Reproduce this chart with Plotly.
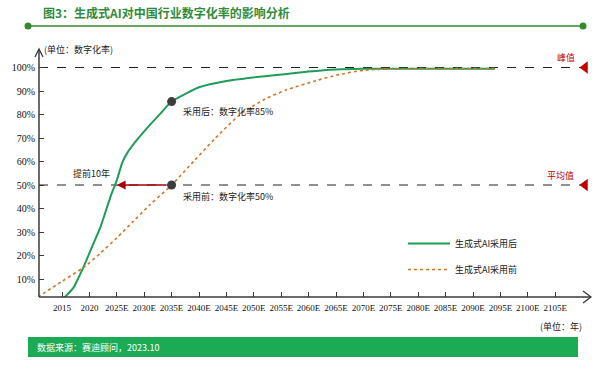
import plotly.graph_objects as go

# ---------------- data ----------------
years_after = [2015.5, 2017, 2018, 2019, 2020, 2021, 2022, 2023, 2024, 2025, 2026, 2027,
               2028.6, 2031, 2033, 2035, 2037.7, 2040, 2045, 2050, 2055, 2060, 2065, 2070, 2094]
rate_after = [2.3, 6, 10.5, 15.5, 21, 26.5, 32, 39, 46, 52, 59.5, 64,
              69, 75.5, 80.5, 85.5, 89, 91.6, 94.3, 95.8, 97, 98.3, 99.2, 99.5, 99.5]

years_before = [2010.6, 2015, 2019, 2022, 2025, 2028, 2031, 2035, 2039, 2043, 2047.5,
                2052, 2056, 2061.5, 2066, 2070, 2075, 2094]
rate_before = [2.3, 9, 15, 21, 27.5, 34.5, 41.5, 50, 60, 70, 80,
               86.5, 90.5, 94.5, 97.2, 98.8, 99.4, 99.5]

x_tick_years = list(range(2015, 2110, 5))
x_tick_labels = [str(y) if y <= 2020 else f"{y}E" for y in x_tick_years]
y_tick_vals = list(range(10, 101, 10))
y_tick_labels = [f"{v}%" for v in y_tick_vals]

peak_value = 100
avg_value = 50
year_after_hit = 2025
year_before_hit = 2035
after_at_2035 = 85.5

series_names = ["生成式AI采用后", "生成式AI采用前"]

# ---------------- layout helpers ----------------
W, H = 600, 367
L, R, T, B = 39, 590, 50, 297


def xp(px):
    return (px - L) / (R - L)


def yp(py):
    return (B - py) / (B - T)


GREEN = "#1f9d57"
ORANGE = "#d2752a"
RED = "#c00000"
DARK = "#3a3a3a"
CJK = "Noto Sans CJK SC"
SERIF = "Liberation Serif"

fig = go.Figure()

fig.add_trace(go.Scatter(
    x=years_after, y=rate_after, mode="lines", name=series_names[0],
    line=dict(color=GREEN, width=2, shape="spline", smoothing=0.6),
    legendgroup="a", cliponaxis=False))
fig.add_trace(go.Scatter(
    x=years_before, y=rate_before, mode="lines", name=series_names[1],
    line=dict(color=ORANGE, width=1.6, dash="dot", shape="spline", smoothing=0.6),
    legendgroup="b", cliponaxis=False))

# markers at 2035
fig.add_trace(go.Scatter(
    x=[year_before_hit, year_before_hit], y=[after_at_2035, avg_value], mode="markers",
    marker=dict(color="#3d3d3d", size=9), showlegend=False, cliponaxis=False))

# red triangles at the right end of reference lines
x_end_year = 2015 + (585 - 62) / 5.48
fig.add_trace(go.Scatter(
    x=[x_end_year, x_end_year], y=[peak_value, avg_value], mode="markers",
    marker=dict(color=RED, size=11, symbol="triangle-left"),
    showlegend=False, cliponaxis=False))

shapes = []
# dashed reference lines
for v in (peak_value, avg_value):
    shapes.append(dict(type="line", xref="paper", yref="y", x0=0, x1=xp(582), y0=v, y1=v,
                       line=dict(color="#222", width=1.1, dash="dash"), layer="below"))

# axis arrows
shapes.append(dict(type="path", xref="paper", yref="paper",
                   path=f"M {xp(35)},{yp(57)} L {xp(39)},{yp(49)} L {xp(43)},{yp(57)}",
                   line=dict(color=DARK, width=1.3)))
shapes.append(dict(type="line", xref="paper", yref="paper", x0=0, x1=0, y0=0, y1=yp(49),
                   line=dict(color=DARK, width=1.5)))
shapes.append(dict(type="path", xref="paper", yref="paper",
                   path=f"M {xp(583)},{yp(291)} L {xp(591)},{yp(297)} L {xp(583)},{yp(303)}",
                   line=dict(color=DARK, width=1.3)))
shapes.append(dict(type="line", xref="paper", yref="paper", x0=0, x1=xp(591), y0=0, y1=0,
                   line=dict(color=DARK, width=1.5)))

# title line with end dots
shapes.append(dict(type="line", xref="paper", yref="paper", x0=xp(28), x1=xp(583),
                   y0=yp(26), y1=yp(26), line=dict(color="#2e8b2e", width=1.5)))
for cx in (28, 583):
    shapes.append(dict(type="circle", xref="paper", yref="paper",
                       x0=xp(cx - 3.5), x1=xp(cx + 3.5), y0=yp(26 + 3.5), y1=yp(26 - 3.5),
                       fillcolor="#2e8b2e", line=dict(color="#2e8b2e", width=0)))

# bottom source box
shapes.append(dict(type="rect", xref="paper", yref="paper", x0=xp(28), x1=xp(578),
                   y0=yp(357), y1=yp(337), fillcolor="#1bab55", line=dict(width=0)))

annotations = []


def txt(text, px, py, size=9, color="#222", anchor="left", family=CJK, bold=False):
    annotations.append(dict(
        text=f"<b>{text}</b>" if bold else text, xref="paper", yref="paper",
        x=xp(px), y=yp(py), xanchor=anchor, yanchor="middle", showarrow=False,
        font=dict(size=size, color=color, family=family)))


txt("图3：生成式AI对中国行业数字化率的影响分析", 41, 12, size=12, color="#2f8c3c", bold=True)
txt("(单位：数字化率)", 42, 49, size=9)
txt("采用后：数字化率85%", 181, 111, size=9)
txt("采用前：数字化率50%", 181, 196, size=9)
txt("提前10年", 91, 173, size=9, anchor="center")
txt("峰值", 566, 58, size=9, color=RED, anchor="center")
txt("平均值", 560, 175, size=9, color=RED, anchor="center")
txt("(单位：年)", 584, 326, size=9, anchor="right")
txt("数据来源：赛迪顾问，2023.10", 35, 347, size=9, color="white")

# red arrow: 10 years earlier
annotations.append(dict(
    x=year_after_hit, y=avg_value, ax=year_before_hit - 0.8, ay=avg_value,
    xref="x", yref="y", axref="x", ayref="y", text="", showarrow=True,
    arrowhead=2, arrowsize=1.1, arrowwidth=1.6, arrowcolor="#a80000"))

x0_year = 2015 - (62 - L) / 5.48
x1_year = 2015 + (R - 62) / 5.48
y0_val = (302.5 - B) / 2.35
y1_val = (302.5 - T) / 2.35

fig.update_layout(
    width=W, height=H,
    margin=dict(l=L, r=W - R, t=T, b=H - B, pad=0),
    paper_bgcolor="white", plot_bgcolor="white",
    showlegend=True,
    legend=dict(x=xp(403), y=yp(229), xanchor="left", yanchor="top",
                font=dict(size=9, family=CJK, color="#222"),
                tracegroupgap=7, itemwidth=42, bgcolor="rgba(0,0,0,0)"),
    xaxis=dict(range=[x0_year, x1_year], tickvals=x_tick_years, ticktext=x_tick_labels,
               ticks="inside", ticklen=5, tickcolor=DARK, tickwidth=1, tickangle=0,
               showgrid=False, zeroline=False, showline=False,
               tickfont=dict(family=SERIF, size=9, color="#111"), ticklabelstandoff=4),
    yaxis=dict(range=[y0_val, y1_val], tickvals=y_tick_vals, ticktext=y_tick_labels,
               ticks="inside", ticklen=5, tickcolor=DARK, tickwidth=1,
               showgrid=False, zeroline=False, showline=False,
               tickfont=dict(family=SERIF, size=10, color="#111"), ticklabelstandoff=3),
    shapes=shapes, annotations=annotations,
)

fig.write_html("out.html", config={"displayModeBar": False},
               post_script="document.body.style.margin='0';document.body.style.padding='0';")
